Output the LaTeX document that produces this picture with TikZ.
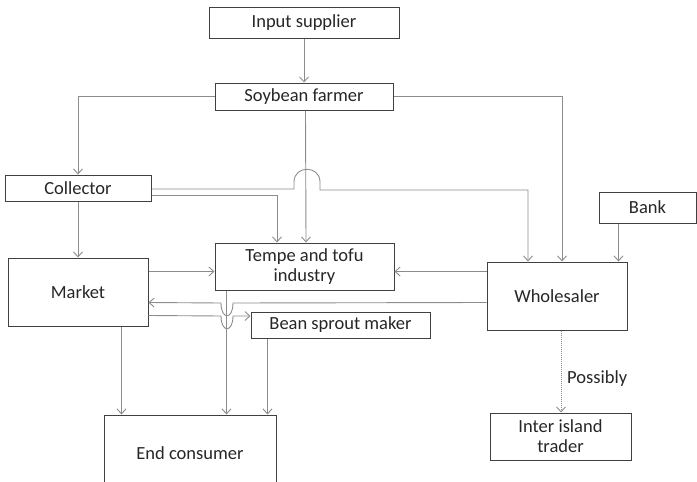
\documentclass[tikz,border=0pt]{standalone}
\usepackage{fontspec}
\setmainfont{Carlito}
\usetikzlibrary{arrows.meta}
\definecolor{boxline}{HTML}{404040}
\definecolor{flowgray}{HTML}{8C8C8C}
\definecolor{txt}{HTML}{262626}
\begin{document}
\begin{tikzpicture}[x=1pt,y=-1pt,
  box/.style={draw=boxline, line width=1pt, text=txt, inner sep=0pt,
    align=center, font=\fontsize{18.5}{20}\selectfont},
  link/.style={draw=flowgray, line width=0.9pt,
    -{Straight Barb[length=5pt,width=9pt]}},
  maybe/.style={link, dash pattern=on 1pt off 1pt},
  lbl/.style={text=txt, inner sep=0pt, font=\fontsize{18.5}{20}\selectfont}]
\useasboundingbox (0,0) rectangle (697,482);
\clip (0,0) rectangle (697,482);

% actors of the chain
\node[box, minimum width=190pt, minimum height=31pt] (insup) at (304,22.5) {Input supplier};
\node[box, minimum width=178pt, minimum height=27pt] (farmer) at (304,96.5) {Soybean farmer};
\node[box, minimum width=146pt, minimum height=26pt] (collector) at (78,188) {Collector};
\node[box, minimum width=97pt, minimum height=31pt] (bank) at (647.5,207.5) {Bank};
\node[box, minimum width=179pt, minimum height=47pt] (tempe) at (304.5,266.5) {Tempe and tofu\\industry};
\node[box, minimum width=140pt, minimum height=68pt] (market) at (78,292) {Market};
\node[box, minimum width=140pt, minimum height=68pt] (wholesaler) at (557,296) {Wholesaler};
\node[box, minimum width=179pt, minimum height=26pt] (sprout) at (340.5,325) {Bean sprout maker};
\node[box, minimum width=172pt, minimum height=76pt] (consumer) at (190,453) {End consumer};
\node[box, minimum width=141pt, minimum height=47pt] (trader) at (560.5,436.5) {Inter island\\trader};

% flows from the farmer
\draw[link] (insup.south) -- (farmer.north);
\draw[link] (farmer.west) -| (collector.north);
\draw[link] (farmer.east) -| ([xshift=5pt]wholesaler.north);
\draw[link] ([xshift=1.5pt]farmer.south) -- ([xshift=1.5pt]tempe.north);

% flows from the collector (upper one hops over the farmer line)
\draw[link] ([yshift=-1pt]collector.east) -- (294,189) -- (294,182)
  .. controls (294,165) and (320,165) .. (320,182) -- (320,190)
  -| ([xshift=-29pt]wholesaler.north);
\draw[link] ([yshift=-7pt]collector.east) -| ([xshift=-27.5pt]tempe.north);
\draw[link] (collector.south) -- (market.north);

% flows into the tempe and tofu industry
\draw[link] ([yshift=-14pt]market.north east) -- ([yshift=-29pt]tempe.north west);
\draw[link] ([yshift=-10pt]wholesaler.north west) -- ([yshift=-29pt]tempe.north east);

% wholesaler to market and market to bean sprout maker, dipping under the tempe line
\draw[link] ([yshift=-41pt]wholesaler.north west) -- (233,303)
  .. controls (233,320) and (221,320) .. (221,303)
  -- ([yshift=-45pt]market.north east);
\draw[link] ([yshift=-58pt]market.north east) -- (221,316)
  .. controls (221,333) and (233,333) .. (233,316)
  -- ([yshift=9pt]sprout.west);

% flows to the end consumer
\draw[link] ([xshift=12pt]tempe.south west) coordinate (t1) -- (t1 |- consumer.north);
\draw[link] ([xshift=17pt]sprout.south west) coordinate (s1) -- (s1 |- consumer.north);
\draw[link] ([xshift=114pt]market.south west) coordinate (m1) -- (m1 |- consumer.north);

% bank and inter island trade
\draw[link] ([xshift=20pt]bank.south west) coordinate (b1) -- (b1 |- wholesaler.north);
\draw[maybe] ([xshift=4pt]wholesaler.south) coordinate (w1) -- (w1 |- trader.north);
\node[lbl, anchor=west] (possibly) at (567,379) {Possibly};
\end{tikzpicture}
\end{document}
